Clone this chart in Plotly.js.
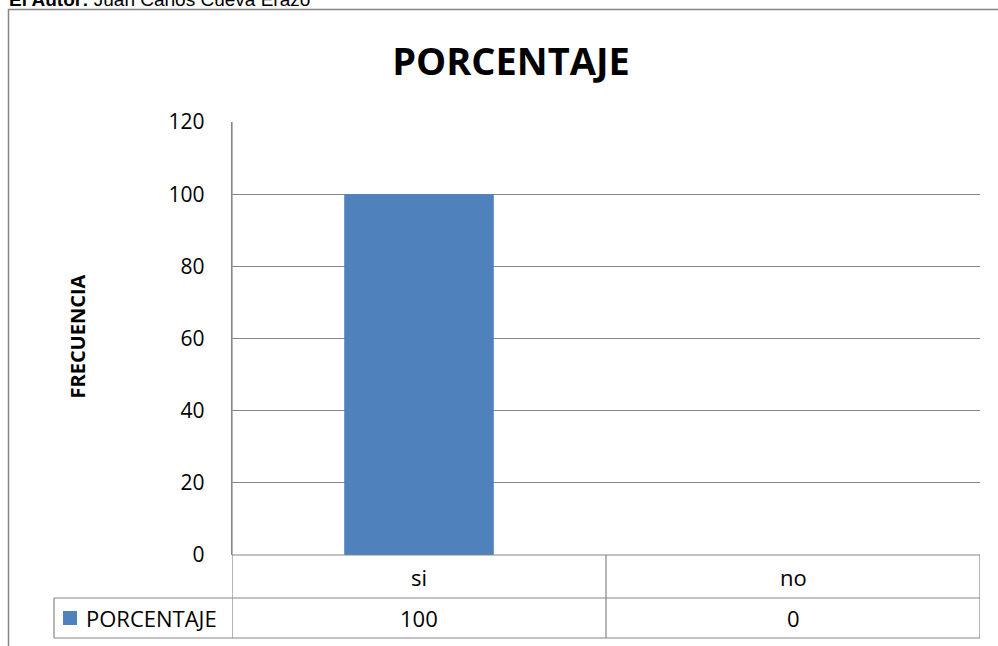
<!DOCTYPE html>
<html>
<head>
<meta charset="utf-8">
<script src="https://cdn.plot.ly/plotly-3.0.1.min.js"></script>
<style>html,body{margin:0;padding:0;background:#fff;}#chart{width:998px;height:646px;}</style>
</head>
<body>
<div id="chart"></div>
<script>
const categories = ["si", "no"];
const seriesName = "PORCENTAJE";
const values = [100, 0];
const yTicks = [0, 20, 40, 60, 80, 100, 120];
const chartTitle = "PORCENTAJE";
const yTitle = "FRECUENCIA";
const authorLabel = "<b>El Autor:</b> Juan Carlos Cueva Erazo";

const W = 998, H = 646;
const L = 232, R = 18, T = 122, B = 91;
const pw = W - L - R, ph = H - T - B;
const px = x => (x - L) / pw;          // pixel -> paper x
const py = y => (H - B - y) / ph;      // pixel -> paper y

const gridCol = "#868686";
const row1Bottom = py(598), row2Bottom = py(638);
const legendLeft = px(54);
const FONT = "Open Sans";

const shapes = [
  // outer chart border
  {type:"rect", xref:"paper", yref:"paper", x0:px(8.5), x1:px(1010), y0:py(660), y1:py(9.5), line:{color:gridCol, width:1.5}, layer:"below"},
  // table horizontal lines
  {type:"line", xref:"x", yref:"paper", x0:-0.5, x1:1.5, y0:0, y1:0, line:{color:gridCol, width:1.2}},
  {type:"line", xref:"paper", yref:"paper", x0:legendLeft, x1:1, y0:row1Bottom, y1:row1Bottom, line:{color:gridCol, width:1.2}},
  {type:"line", xref:"paper", yref:"paper", x0:legendLeft, x1:1, y0:row2Bottom, y1:row2Bottom, line:{color:gridCol, width:1.2}},
  // legend cell left
  {type:"line", xref:"paper", yref:"paper", x0:legendLeft, x1:legendLeft, y0:row1Bottom, y1:row2Bottom, line:{color:gridCol, width:1.2}},
  // swatch
  {type:"rect", xref:"paper", yref:"paper", x0:px(63), x1:px(77), y0:py(625), y1:py(611), fillcolor:"#4F81BD", line:{width:0}}
];
// table vertical lines at category boundaries
for (let i = 0; i <= categories.length; i++) {
  shapes.push({type:"line", xref:"x", yref:"paper", x0:i-0.5, x1:i-0.5, y0:row2Bottom, y1:(i===0?1:0), line:{color:gridCol, width:1.2}});
}

const annotations = [
  {text: authorLabel, xref:"paper", yref:"paper", x:px(7), y:py(0), xanchor:"left", yanchor:"middle", showarrow:false, font:{family:"Liberation Sans, Arial", size:19, color:"#000"}},
  {text: "<b>"+yTitle+"</b>", xref:"paper", yref:"paper", x:px(61), y:py(337), textangle:-90, showarrow:false, font:{family:FONT, size:20, color:"#000"}},
  {text: seriesName, xref:"paper", yref:"paper", x:px(84), y:py(618), xanchor:"left", yanchor:"middle", showarrow:false, font:{family:FONT, size:22, color:"#000"}}
];
categories.forEach((c, i) => {
  annotations.push({text:c, xref:"x", yref:"paper", x:i, y:py(577), showarrow:false, yanchor:"middle", font:{family:FONT, size:22, color:"#000"}});
  annotations.push({text:String(values[i]), xref:"x", yref:"paper", x:i, y:py(618), showarrow:false, yanchor:"middle", font:{family:FONT, size:22, color:"#000"}});
});

const data = [{
  type:"bar", x:categories, y:values, name:seriesName,
  marker:{color:"#4F81BD"}, width:0.4, hoverinfo:"none"
}];

const layout = {
  width:W, height:H,
  margin:{l:L, r:R, t:T, b:B, pad:0},
  paper_bgcolor:"#fff", plot_bgcolor:"#fff",
  showlegend:false,
  title:{text:"<b>"+chartTitle+"</b>", x:px(511), xanchor:"center", y:1-62/H, yanchor:"middle", xref:"paper", font:{family:FONT, size:38, color:"#000"}},
  xaxis:{type:"category", range:[-0.5, 1.5], showticklabels:false, showgrid:false, zeroline:false, showline:false, ticks:""},
  yaxis:{range:[0, 120], tickvals:yTicks, ticktext:yTicks.map(String), showgrid:true, gridcolor:gridCol, gridwidth:1.2, zeroline:false,
         showline:true, linecolor:gridCol, linewidth:1.2, ticks:"", ticklabelstandoff:22,
         tickfont:{family:FONT, size:21, color:"#000"}},
  shapes:shapes, annotations:annotations
};
Plotly.newPlot("chart", data, layout, {staticPlot:true});
</script>
</body>
</html>
